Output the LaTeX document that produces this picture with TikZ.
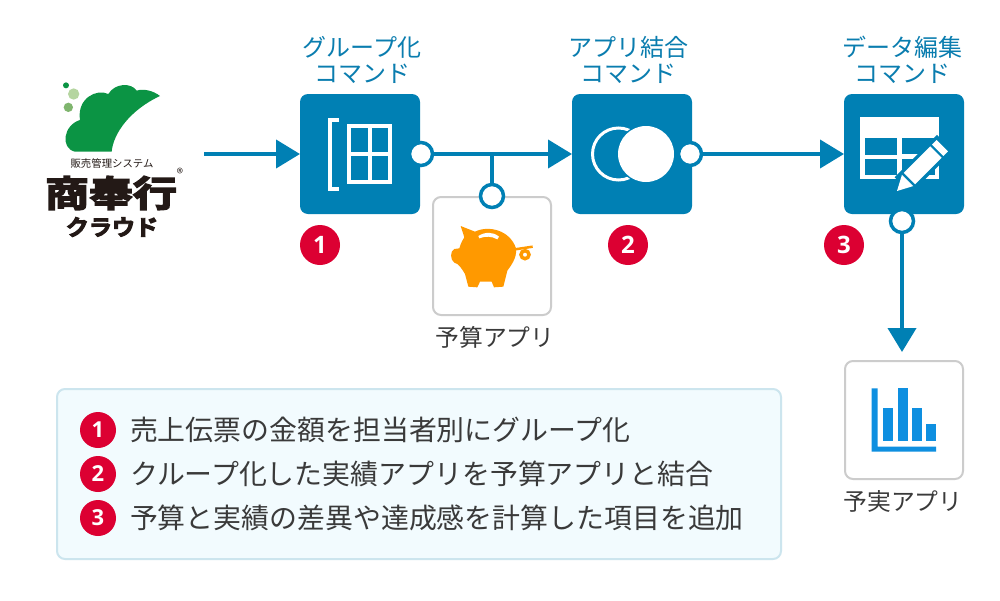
\documentclass[tikz,border=0pt]{standalone}
\usepackage{fontspec}
\usetikzlibrary{arrows.meta}
\newfontfamily\jp{Noto Sans CJK JP}
\newfontfamily\jpheavy[FakeBold=4]{Noto Sans CJK JP Bold}
\setsansfont{Open Sans}
\definecolor{box_blue}{RGB}{0,128,180}
\definecolor{head_blue}{RGB}{10,125,175}
\definecolor{text_gray}{RGB}{58,58,58}
\definecolor{edge_gray}{RGB}{204,204,204}
\definecolor{pig_orange}{RGB}{255,153,0}
\definecolor{chart_blue}{RGB}{14,143,224}
\definecolor{badge_red}{RGB}{220,0,50}
\definecolor{note_fill}{RGB}{242,251,254}
\definecolor{note_edge}{RGB}{204,229,238}
\definecolor{logo_green}{RGB}{11,148,68}
\definecolor{logo_light}{RGB}{181,213,160}
\definecolor{logo_mid}{RGB}{127,181,110}
\definecolor{logo_black}{RGB}{35,25,22}

\begin{document}
\begin{tikzpicture}[x=1pt,y=-1pt,line width=4pt,color=box_blue,
    -{Triangle[length=24pt,width=28pt]}]
    \tikzset{
      cmd/.style={fill=box_blue, rounded corners=8pt, minimum size=120pt, inner sep=0pt, outer sep=0pt},
      app/.style={draw=edge_gray, line width=2pt, fill=white, rounded corners=8pt, minimum size=118pt, inner sep=0pt, outer sep=1pt},
      port/.style={circle, draw=box_blue, line width=3.5pt, fill=white, minimum size=23pt, inner sep=0pt},
      badge/.style={circle, fill=badge_red, minimum size=40pt, inner sep=0pt, text=white, font=\sffamily\bfseries\fontsize{24}{24}\selectfont},
      smallbadge/.style={badge, minimum size=36pt, font=\sffamily\bfseries\fontsize{22}{22}\selectfont},
      head/.style={text=head_blue, align=center, inner sep=0pt, font=\jp\fontsize{24}{26}\selectfont},
      applabel/.style={text=text_gray, inner sep=0pt, font=\jp\fontsize{23.8}{26}\selectfont},
      noteline/.style={anchor=west, text=text_gray, inner sep=0pt, font=\jp\fontsize{27.9}{30}\selectfont},
      logotext/.style={text=logo_black, inner sep=0pt}
    }
    \useasboundingbox (0,0) rectangle (1000,600);
    \fill[white,-] (0,0) rectangle (1000,600);

    % logo
    \begin{scope}[shift={(30,70)},scale=1/3,-]
      \fill[logo_green] (245,245) .. controls (250,190) and (300,120) .. (390,78)
        .. controls (370,62) and (340,55) .. (320,62)
        .. controls (305,38) and (255,38) .. (235,72)
        .. controls (200,55) and (140,85) .. (150,150)
        .. controls (100,165) and (90,235) .. (135,245) -- cycle;
      \fill[logo_green] (108,46) circle (9);
      \fill[logo_light] (131,72) circle (17);
      \fill[logo_mid] (115,112) circle (14);
    \end{scope}
    \node[logotext, font=\jp\fontsize{10.4}{12}\selectfont] (logo_sub) at (112,164) {販売管理システム};
    \node[logotext, xscale=1.22, transform shape, font=\jpheavy\fontsize{36}{38}\selectfont] (logo_main) at (111,193) {商奉行};
    \node[logotext, xscale=1.05, transform shape, font=\jpheavy\fontsize{22}{24}\selectfont] (logo_cloud) at (112,227) {クラウド};
    \node[logotext, font=\jp\fontsize{13}{13}\selectfont] (logo_reg) at (180,173) {®};
    \coordinate (start) at (204,154);

    % commands
    \node[cmd] (group) at (360,154) {};
    \node[cmd] (join)  at (632,154) {};
    \node[cmd] (edit)  at (904,154) {};
    \node[head] (group_label) at (362,60) {グループ化\\コマンド};
    \node[head] (join_label)  at (628,60) {アプリ結合\\コマンド};
    \node[head] (edit_label)  at (902,60) {データ編集\\コマンド};

    % apps
    \node[app] (budget) at (492,256) {};
    \node[app] (actual) at (904,420) {};
    \node[applabel] (budget_label) at (495,337) {予算アプリ};
    \node[applabel] (actual_label) at (903,501) {予実アプリ};

    % ports
    \node[port] (port_group)  at (421,154) {};
    \node[port] (port_join)   at (690,154) {};
    \node[port] (port_edit)   at (902,221) {};
    \node[port] (port_budget) at (492,196) {};
    \coordinate (branch) at (492,154);

    \path
     (start) edge (group)
     (port_group) edge (join)
     (branch) edge[-] (port_budget)
     (port_join) edge (edit)
     (port_edit) edge (902,352)
     ;

    % grouping icon
    \begin{scope}[white,-,line width=4pt]
      \draw (339,120) -- (330,120) -- (330,189) -- (339,189);
      \draw (349,126) rectangle (390,182);
      \draw (369.5,126) -- (369.5,182);
      \draw (349,154) -- (390,154);
    \end{scope}

    % join icon
    \draw[white,-,line width=3pt] (618.5,154) circle (26);
    \fill[box_blue] (646,154) circle (29.5);
    \fill[white] (646,154) circle (28);

    % edit icon
    \begin{scope}[-]
      \fill[white] (860,117) rectangle (939,179);
      \fill[box_blue] (865,138) rectangle (897,155);
      \fill[box_blue] (865,159) rectangle (897,175);
      \fill[box_blue] (902,138) rectangle (935,154);
      \fill[box_blue] (902,159) rectangle (935,175);
      \begin{scope}[shift={(897,191)},rotate=45]
        \fill[box_blue] (8,-11.5) rectangle (68,11.5);
        \fill[white] (0,0) -- (15,-8) -- (15,8) -- cycle;
        \fill[white] (17.5,-8) rectangle (55,8);
        \fill[white] (57.5,-8) rectangle (64,8);
      \end{scope}
    \end{scope}

    % piggy icon
    \begin{scope}[shift={(420,180)},scale=1/3,-]
      \fill[pig_orange] (122,138) -- (165,155)
        .. controls (205,135) and (270,150) .. (288,205)
        .. controls (292,235) and (270,260) .. (262,272)
        -- (250,320) -- (222,322) -- (215,305) -- (180,305) -- (172,322) -- (145,320) -- (135,282)
        .. controls (125,265) and (115,250) .. (103,248)
        .. controls (90,240) and (90,212) .. (103,207)
        -- (118,205)
        .. controls (122,190) and (128,180) .. (133,172) -- cycle;
      \draw[pig_orange,line width=2.5pt] (285,208) -- (338,200);
      \draw[pig_orange,line width=3.5pt] (315,224) circle (12);
      \fill[white] (175,168) .. controls (195,155) and (220,155) .. (237,170)
        -- (232,178) .. controls (215,168) and (195,168) .. (178,175) -- cycle;
    \end{scope}

    % chart icon
    \begin{scope}[shift={(830,320)},scale=1/3,-]
      \fill[chart_blue] (125,205) -- (143,205) -- (143,380) -- (318,380) -- (318,395) -- (125,395) -- cycle;
      \fill[chart_blue] (160,263) rectangle (190,362);
      \fill[chart_blue] (203,205) rectangle (233,362);
      \fill[chart_blue] (246,263) rectangle (276,362);
      \fill[chart_blue] (288,312) rectangle (318,362);
    \end{scope}

    % badges
    \node[badge] (badge_a) at (320,245) {1};
    \node[badge] (badge_b) at (628,245) {2};
    \node[badge] (badge_c) at (844,245) {3};

    % note
    \node[draw=note_edge, line width=2pt, fill=note_fill, rounded corners=8pt, minimum width=724pt, minimum height=170pt, inner sep=0pt] (note) at (419,474) {};
    \node[smallbadge] (note_a) at (98,430) {1};
    \node[smallbadge] (note_b) at (98,474) {2};
    \node[smallbadge] (note_c) at (98,518) {3};
    \node[noteline] (text_a) at (128,430) {売上伝票の金額を担当者別にグループ化};
    \node[noteline] (text_b) at (128,474) {クループ化した実績アプリを予算アプリと結合};
    \node[noteline] (text_c) at (128,518) {予算と実績の差異や達成感を計算した項目を追加};
\end{tikzpicture}
\end{document}
